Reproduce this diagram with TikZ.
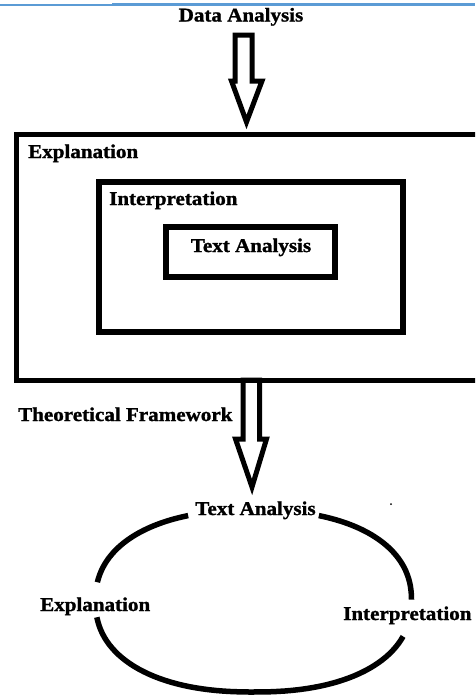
\documentclass[tikz,border=0pt]{standalone}
\usepackage{fontspec}
\setmainfont{Liberation Serif}[BoldFeatures={FakeBold=1.2}]
\usetikzlibrary{calc}
\definecolor{rulebar}{HTML}{5B9BD5}
% slightly widened bold captions
\newcommand{\widecap}[1]{\scalebox{1.08}[1]{#1}}
\begin{document}
\begin{tikzpicture}[x=1pt,y=-1pt,
  lbl/.style={inner sep=0pt, font=\fontsize{19.5}{22}\selectfont\bfseries},
  frame/.style={draw, line width=5.5pt, rectangle, inner sep=0pt, outer sep=0pt},
  blockarrow/.style={draw, line width=5pt, fill=white, line join=miter},
  ringline/.style={line width=5.5pt}]
\useasboundingbox (0,0) rectangle (475,696);
\clip (0,0) rectangle (475,696);

% header rule
\coordinate (barA) at (0,5);
\coordinate (barB) at (112,5);
\coordinate (barC) at (112,4.5);
\coordinate (barD) at (475,4.5);
\draw[rulebar, line width=2pt] (barA) -- (barB);
\draw[rulebar, line width=3pt] (barC) -- (barD);

% block arrows
\coordinate (inTip) at (246.5,122);
\coordinate (outTip) at (252,487);
\draw[blockarrow] (235,35) -- (252,35) -- (252,81) -- (262,81) -- (inTip)
  -- (231.5,81) -- (235,81) -- cycle;
\draw[blockarrow] (243,380) -- (259.5,380) -- (259.5,439) -- (266.5,439) -- (outTip)
  -- (235.5,439) -- (243,439) -- cycle;

% nested frames
\node[frame, minimum width=463.5pt, minimum height=246pt] (outer) at (248.25,257.5) {};
\node[frame, minimum width=304pt, minimum height=150pt] (inner) at (251,257) {};
\node[frame, minimum width=169pt, minimum height=50pt] (core) at (250.5,252) {};

% captions
\node[lbl, anchor=base] (dataT) at (241,21.5) {\widecap{Data Analysis}};
\node[lbl, anchor=base west] (explA) at (28,158) {\widecap{Explanation}};
\node[lbl, anchor=base west] (interA) at (109,205) {\widecap{Interpretation}};
\node[lbl, anchor=base] (textA) at (251,252) {\widecap{Text Analysis}};
\node[lbl, anchor=base west] (theory) at (18,421) {\widecap{Theoretical Framework}};
\node[lbl, anchor=base] (textB) at (255.5,515) {\widecap{Text Analysis}};
\node[lbl, anchor=base west] (explB) at (40,611) {\widecap{Explanation}};
\node[lbl, anchor=base west] (interB) at (343,620) {\widecap{Interpretation}};

% cycle ring (rounded oval, broken at the captions)
\coordinate (ringC) at (253.5,601);
\begin{scope}[shift={(ringC)}]
  \draw[ringline] plot[domain=111.5:170.5, samples=40, variable=\t]
    ({158*sign(cos(\t))*abs(cos(\t))^0.88}, {-91*sign(sin(\t))*abs(sin(\t))^0.88});
  \draw[ringline] plot[domain=188:340, samples=61, variable=\t]
    ({158*sign(cos(\t))*abs(cos(\t))^0.88}, {-91*sign(sin(\t))*abs(sin(\t))^0.88});
  \draw[ringline] plot[domain=0.5:68.5, samples=40, variable=\t]
    ({158*sign(cos(\t))*abs(cos(\t))^0.88}, {-91*sign(sin(\t))*abs(sin(\t))^0.88});
\end{scope}

% small speck
\fill (391,504) circle (1pt);
\end{tikzpicture}
\end{document}
